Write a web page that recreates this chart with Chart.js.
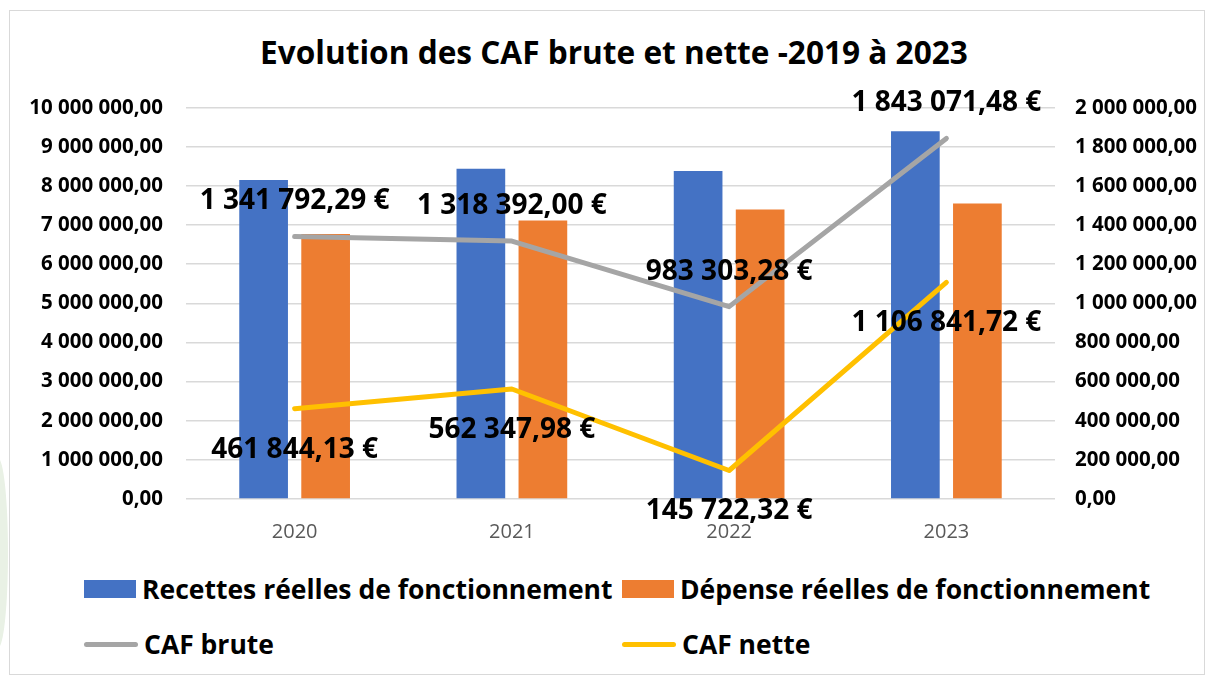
<!DOCTYPE html>
<html>
<head>
<meta charset="utf-8">
<script src="https://cdn.jsdelivr.net/npm/chart.js@4"></script>
<style>
  html, body { margin: 0; padding: 0; background: #fff; }
  body { width: 1208px; height: 677px; position: relative; overflow: hidden; font-family: 'Open Sans', sans-serif; }
  #frame { position: absolute; left: 9px; top: 10px; width: 1196px; height: 665px; border: 1px solid #d9d9d9; box-sizing: border-box; }
  #leaf { position: absolute; left: -12px; top: 458px; width: 20px; height: 190px; background: #e9f1e5; border-radius: 50%; }
  #wrap { position: absolute; left: 0; top: 0; width: 1208px; height: 560px; }
  #title { position: absolute; top: 32px; left: 614px; transform: translateX(-50%); white-space: nowrap;
           font-weight: bold; font-size: 31.6px; color: #000; line-height: 40px; }
  .lg { position: absolute; display: flex; align-items: center; white-space: nowrap;
        font-weight: bold; font-size: 26.5px; color: #000; }
  .lg i { display: inline-block; margin-right: 6px; }
</style>
</head>
<body>
<div id="leaf"></div>
<div id="frame"></div>
<div id="title">Evolution des CAF brute et nette -2019 à 2023</div>
<div id="wrap"><canvas id="chart" width="1208" height="560"></canvas></div>
<div id="legend"></div>
<script>
const FONT = 'Open Sans';
const years = ['2020', '2021', '2022', '2023'];
const recettes = [8150000, 8440000, 8380000, 9400000];
const depenses = [6770000, 7120000, 7400000, 7550000];
const cafBrute = [1341792.29, 1318392.00, 983303.28, 1843071.48];
const cafNette = [461844.13, 562347.98, 145722.32, 1106841.72];

function fr(v) {
  const parts = v.toFixed(2).split('.');
  return parts[0].replace(/\B(?=(\d{3})+(?!\d))/g, ' ') + ',' + parts[1];
}

// value labels drawn above / below line points
const pointLabels = {
  id: 'pointLabels',
  afterDatasetsDraw(chart) {
    const ctx = chart.ctx;
    ctx.save();
    ctx.font = 'bold 28px ' + FONT;
    ctx.fillStyle = '#000';
    ctx.textAlign = 'center';
    ctx.textBaseline = 'middle';
    chart.data.datasets.forEach((ds, i) => {
      if (ds.labelOffset === undefined) return;
      chart.getDatasetMeta(i).data.forEach((pt, j) => {
        ctx.fillText(fr(ds.data[j]) + ' €', pt.x, pt.y + ds.labelOffset);
      });
    });
    ctx.restore();
  }
};

const chart = new Chart(document.getElementById('chart'), {
  type: 'bar',
  data: {
    labels: years,
    datasets: [
      { label: 'Recettes réelles de fonctionnement', data: recettes, backgroundColor: '#4472c4',
        yAxisID: 'y', order: 2, categoryPercentage: 0.571, barPercentage: 0.785 },
      { label: 'Dépense réelles de fonctionnement', data: depenses, backgroundColor: '#ed7d31',
        yAxisID: 'y', order: 2, categoryPercentage: 0.571, barPercentage: 0.785 },
      { type: 'line', label: 'CAF brute', data: cafBrute, borderColor: '#a5a5a5', backgroundColor: '#a5a5a5',
        borderWidth: 5, pointRadius: 0, yAxisID: 'y1', order: 1, labelOffset: -35,
        borderCapStyle: 'round', borderJoinStyle: 'round' },
      { type: 'line', label: 'CAF nette', data: cafNette, borderColor: '#ffc000', backgroundColor: '#ffc000',
        borderWidth: 5, pointRadius: 0, yAxisID: 'y1', order: 1, labelOffset: 41,
        borderCapStyle: 'round', borderJoinStyle: 'round' }
    ]
  },
  options: {
    responsive: false,
    animation: false,
    layout: { padding: { top: 107.7, left: 0, right: 0, bottom: 0 } },
    plugins: { legend: { display: false }, tooltip: { enabled: false } },
    scales: {
      x: {
        grid: { display: false },
        border: { display: false },
        ticks: { color: '#595959', font: { family: FONT, size: 20 }, padding: 13 },
        afterFit(s) { s.height = 61; }
      },
      y: {
        position: 'left', min: 0, max: 10000000,
        grid: { color: '#d9d9d9', lineWidth: 1.5, drawTicks: false },
        border: { display: false },
        ticks: { stepSize: 1000000, color: '#000', padding: 23,
                 font: { family: FONT, size: 20.5, weight: 'bold' }, callback: v => fr(v) },
        afterFit(s) { s.width = 186; }
      },
      y1: {
        position: 'right', min: 0, max: 2000000,
        grid: { display: false, drawTicks: false },
        border: { display: false },
        ticks: { stepSize: 200000, color: '#000', padding: 20,
                 font: { family: FONT, size: 20.5, weight: 'bold' }, callback: v => fr(v) },
        afterFit(s) { s.width = 153; }
      }
    }
  },
  plugins: [pointLabels]
});

// legend in two aligned columns, built from the datasets
const legendPos = [[84, 589], [622, 589], [84, 644], [622, 644]];
const legend = document.getElementById('legend');
chart.data.datasets.forEach((ds, i) => {
  const item = document.createElement('div');
  item.className = 'lg';
  const mark = document.createElement('i');
  if (ds.type === 'line') {
    mark.style.cssText = 'width:54px;height:5px;border-radius:3px;background:' + ds.borderColor;
  } else {
    mark.style.cssText = 'width:52px;height:18px;background:' + ds.backgroundColor;
  }
  item.appendChild(mark);
  item.appendChild(document.createTextNode(ds.label));
  item.style.left = legendPos[i][0] + 'px';
  item.style.top = (legendPos[i][1] - 18) + 'px';
  item.style.height = '36px';
  legend.appendChild(item);
});
</script>
</body>
</html>
